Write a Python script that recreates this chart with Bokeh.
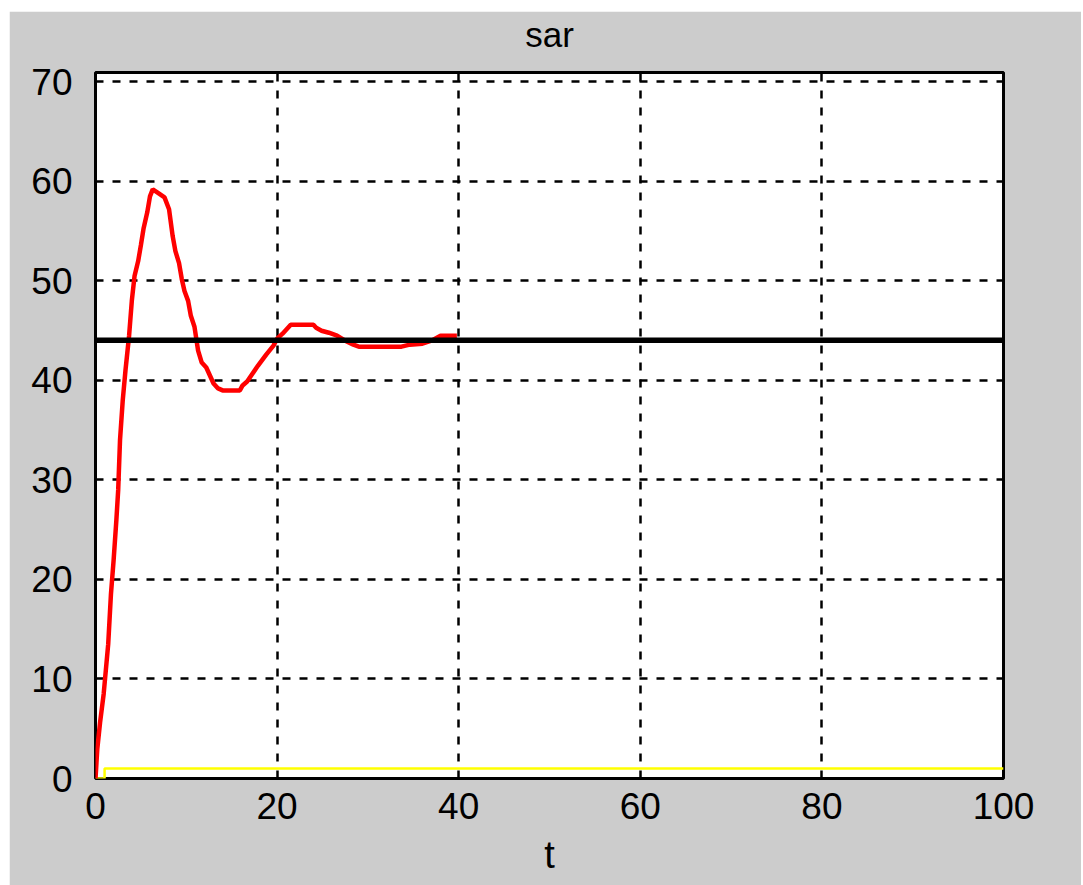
from bokeh.plotting import figure
from bokeh.models import Range1d, FixedTicker, LinearAxis
from bokeh.embed import file_html
from bokeh.resources import INLINE

# ---- data ----
t_resp = [0, 0.2, 0.5, 0.9, 1.4, 1.7, 2.0, 2.3, 2.5, 2.7, 3.0, 3.3, 3.7, 4.0, 4.3, 4.7,
          5.0, 5.3, 5.7, 6.0, 6.3, 6.8, 7.6, 8.1, 8.5, 8.8, 9.2, 9.5, 9.8, 10.2, 10.5,
          10.9, 11.3, 11.7, 12.2, 12.6, 13.0, 13.5, 14.0, 15.9, 16.2, 16.7, 17.0, 17.9,
          18.8, 19.6, 20.0, 20.6, 21.0, 21.5, 24.0, 24.3, 24.9, 25.7, 26.6, 27.5, 28.4,
          29.0, 33.7, 34.6, 36.0, 37.0, 38.0, 39.8]
y_resp = [0, 3, 5.6, 8.5, 13.5, 18.5, 22, 26, 29, 34, 38, 41, 44.5, 48, 50.5, 52,
          53.6, 55.3, 56.9, 58.5, 59.2, 58.9, 58.4, 57.2, 54.5, 53, 51.8, 50.2, 49, 48, 46.5,
          45.4, 43, 41.8, 41.3, 40.5, 39.7, 39.2, 39.0, 39.0, 39.5, 39.9, 40.3, 41.5,
          42.6, 43.5, 44.2, 44.7, 45.1, 45.6, 45.6, 45.3, 45.0, 44.8, 44.5, 44.0, 43.6,
          43.4, 43.4, 43.6, 43.7, 44.0, 44.5, 44.5]
t_step = [0, 1, 1, 100]
y_step = [0, 0, 1, 1]
t_ref = [0, 100]
y_ref = [44.05, 44.05]
x_ticks = [0, 20, 40, 60, 80, 100]
y_ticks = [0, 10, 20, 30, 40, 50, 60, 70]
title_text = "sar"
xlabel_text = "t"

FONT = "Liberation Sans"

p = figure(width=1072, height=874, output_backend="svg", toolbar_location=None,
           x_range=Range1d(0, 100), y_range=Range1d(0, 70.95),
           min_border_left=86, min_border_right=78, min_border_top=60,
           min_border_bottom=107)
p.margin = (11, 0, 0, 9)
p.border_fill_color = "#cccccc"
p.background_fill_color = "white"
p.outline_line_color = "black"
p.outline_line_width = 3

bottom_ax = p.below[0]
left_ax = p.left[0]

for ax, ticks in ((bottom_ax, x_ticks), (left_ax, y_ticks)):
    ax.ticker = FixedTicker(ticks=ticks)
    ax.axis_line_color = None
    ax.major_tick_line_color = None
    ax.minor_tick_line_color = None
    ax.major_label_text_font = FONT
    ax.major_label_text_font_size = "37px"
    ax.major_label_text_color = "black"
bottom_ax.major_label_standoff = 8
left_ax.major_label_standoff = 17
bottom_ax.axis_label = xlabel_text
bottom_ax.axis_label_text_font = FONT
bottom_ax.axis_label_text_font_size = "38px"
bottom_ax.axis_label_text_font_style = "normal"
bottom_ax.axis_label_text_color = "black"
bottom_ax.axis_label_standoff = 12

# title drawn as the label of a bare top axis, so that it can sit high
top_ax = LinearAxis(ticker=FixedTicker(ticks=[]), axis_label=title_text)
top_ax.axis_line_color = None
top_ax.major_tick_line_color = None
top_ax.minor_tick_line_color = None
top_ax.major_label_text_font_size = "0px"
top_ax.major_tick_in = 0
top_ax.major_tick_out = 0
top_ax.major_label_standoff = 0
top_ax.axis_label_standoff = 19
top_ax.axis_label_text_font = FONT
top_ax.axis_label_text_font_size = "35px"
top_ax.axis_label_text_font_style = "normal"
top_ax.axis_label_text_color = "black"
p.add_layout(top_ax, "above")

for g in (p.xgrid, p.ygrid):
    g.grid_line_color = "black"
    g.grid_line_width = 2.5
    g.grid_line_dash = "8 9"
    g.grid_line_alpha = 1.0

p.line(t_step, y_step, line_color="#ffff00", line_width=2.5)
p.line(t_resp, y_resp, line_color="#ff0000", line_width=4.5)
p.line(t_ref, y_ref, line_color="black", line_width=5.5)

open("out.html", "w").write(file_html(p, INLINE))
